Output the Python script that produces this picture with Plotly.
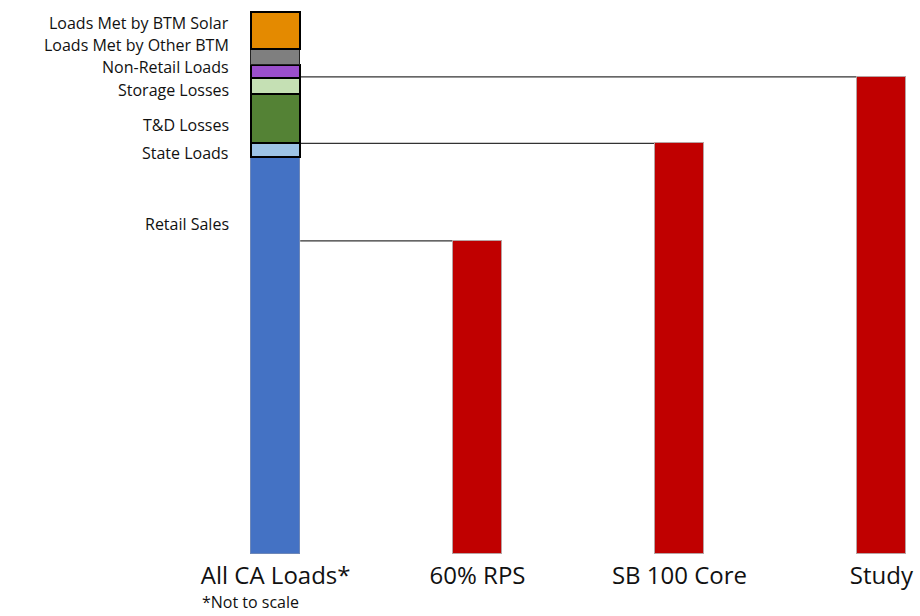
import plotly.graph_objects as go

# ---- data ----
categories = ["All CA Loads*", "60% RPS", "SB 100 Core", "Study"]
stack_names = ["Retail Sales", "State Loads", "T&D Losses", "Storage Losses",
               "Non-Retail Loads", "Loads Met by Other BTM", "Loads Met by BTM Solar"]
stack_values = [397.5, 13.5, 49.5, 16.0, 13.0, 15.7, 37.0]
target_names = ["60% RPS", "SB 100 Core", "Study"]
target_values = [313.5, 411.0, 477.5]

# ---- styles ----
stack_colors = ["#4472C4", "#9DC3E6", "#548235", "#C5E0B4", "#9A4FCB", "#7F7F7F", "#E48A00"]
stack_lines = ["#6d87b8", "#000000", "#000000", "#000000", "#000000", "#222222", "#000000"]
stack_lw = [1, 2, 2, 2, 2, 1.5, 2]
label_y = [330.5, 401.5, 429.5, 464.5, 487.5, 509, 531]  # label centre positions (axis units)
label_font = "'Open Sans', Lato, sans-serif"
BAR_W = 0.243
W, H = 920, 616
Y_TOP = 554.5
X_RANGE = [-1.3653, 3.1914]

fig = go.Figure()
for name, val, col, lc, lw in zip(stack_names, stack_values, stack_colors, stack_lines, stack_lw):
    fig.add_trace(go.Bar(x=[categories[0]], y=[val], name=name, width=BAR_W,
                         marker=dict(color=col, line=dict(color=lc, width=lw)),
                         showlegend=False, hoverinfo="name+y"))

fig.add_trace(go.Bar(x=target_names, y=target_values, width=BAR_W, name="Target",
                     marker=dict(color="#C00000", line=dict(color="#b9a3a3", width=1)),
                     showlegend=False))

# connector lines from the stacked bar to each target bar
for nm, v in zip(target_names, target_values):
    xi = categories.index(nm)
    fig.add_shape(type="line", xref="x", yref="y",
                  x0=0 + BAR_W / 2, x1=xi - BAR_W / 2, y0=v, y1=v,
                  line=dict(color="#333333", width=1.2), layer="below")

# left-hand labels for the stacked segments
for name, ly in zip(stack_names, label_y):
    fig.add_annotation(x=231 / W, xref="paper", y=ly, yref="y", text=name,
                       showarrow=False, xanchor="right", yanchor="middle",
                       font=dict(family=label_font, size=16, color="#111111"))

fig.add_annotation(x=200 / W, xref="paper", y=-(603 - Y_TOP) / Y_TOP, yref="paper",
                   text="*Not to scale", showarrow=False, xanchor="left", yanchor="middle",
                   font=dict(family=label_font, size=16, color="#111111"))

fig.update_layout(
    width=W, height=H, barmode="stack",
    paper_bgcolor="white", plot_bgcolor="white",
    margin=dict(l=0, r=0, t=0, b=H - Y_TOP),
    xaxis=dict(range=X_RANGE, showgrid=False, zeroline=False, showline=False,
               tickfont=dict(family=label_font, size=24, color="#111111"),
               ticks="", ticklabelstandoff=5, categoryorder="array",
               categoryarray=categories),
    yaxis=dict(range=[0, Y_TOP], visible=False),
    bargap=0,
)

fig.write_html("out.html", config={"displayModeBar": False},
               post_script="document.body.style.margin='0';")
